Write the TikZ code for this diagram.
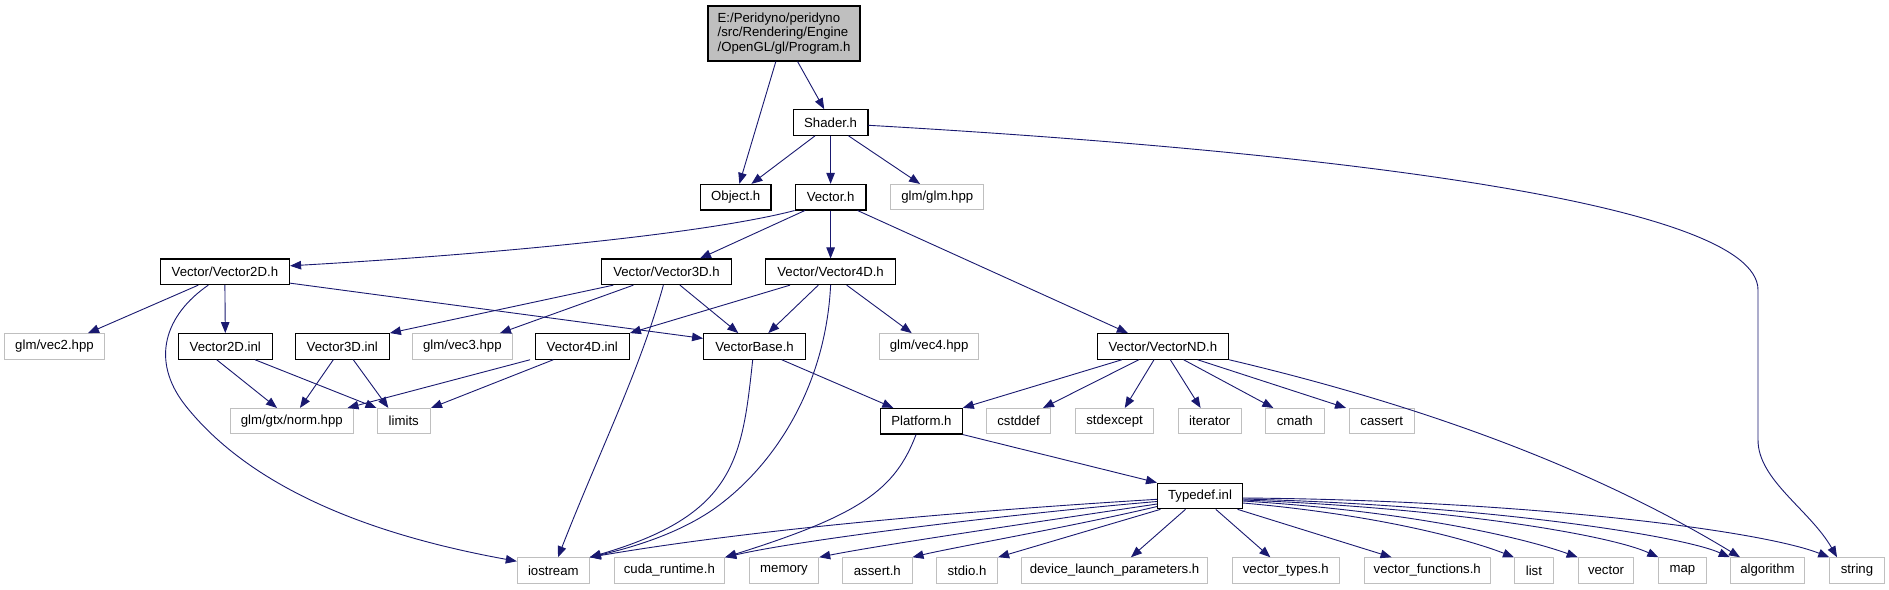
\documentclass[tikz,border=0pt]{standalone}
\usepackage{fontspec}
\setmainfont{Liberation Sans}
\usetikzlibrary{arrows.meta}
\definecolor{edgeblue}{RGB}{25,25,112}
\definecolor{greyb}{RGB}{191,191,191}
\begin{document}
\begin{tikzpicture}[x=1pt,y=-1pt,
  box/.style={rectangle, inner sep=0pt, minimum height=25.5pt, font=\fontsize{13.2}{15.5}\selectfont},
  nb/.style={box, draw=black, line width=1.2pt, fill=white},
  ng/.style={box, draw=greyb, line width=1pt, fill=white},
  root/.style={box, draw=black, line width=1.2pt, fill=greyb, align=left, font=\fontsize{13.2}{14.5}\selectfont},
  edge/.style={draw=edgeblue, line width=0.9pt, -{Triangle[length=11pt,width=8.5pt]}}]
\useasboundingbox[fill=white] (0,0) rectangle (1889,589);
% nodes
\node[root, minimum width=152pt, minimum height=55pt] (prog) at (784,33.5) {E:/Peridyno/peridyno\\/src/Rendering/Engine\\/OpenGL/gl/Program.h};
\node[nb, minimum width=74.6pt] (shader) at (830.6,122.5) {Shader.h};
\node[nb, minimum width=70.3pt] (object) at (735.75,197.2) {Object.h};
\node[nb, minimum width=70.8pt] (vector) at (830.6,197.2) {Vector.h};
\node[ng, minimum width=92.7pt] (glm) at (937.25,197.2) {glm/glm.hpp};
\node[nb, minimum width=129.2pt] (v2d) at (224.9,271.8) {Vector/Vector2D.h};
\node[nb, minimum width=129.5pt] (v3d) at (666.45,271.8) {Vector/Vector3D.h};
\node[nb, minimum width=129.8pt] (v4d) at (830.6,271.8) {Vector/Vector4D.h};
\node[nb, minimum width=131.2pt] (vnd) at (1162.9,346.4) {Vector/VectorND.h};
\node[ng, minimum width=99.4pt] (vec2) at (54.5,346.4) {glm/vec2.hpp};
\node[nb, minimum width=94pt] (v2inl) at (225.3,346.4) {Vector2D.inl};
\node[nb, minimum width=94pt] (v3inl) at (342.3,346.4) {Vector3D.inl};
\node[ng, minimum width=99.3pt] (vec3) at (462.35,346.4) {glm/vec3.hpp};
\node[nb, minimum width=94pt] (v4inl) at (582.3,346.4) {Vector4D.inl};
\node[nb, minimum width=101.6pt] (vbase) at (754.5,346.4) {VectorBase.h};
\node[ng, minimum width=99.3pt] (vec4) at (929.15,346.4) {glm/vec4.hpp};
\node[ng, minimum width=122.5pt] (norm) at (291.75,421.2) {glm/gtx/norm.hpp};
\node[ng, minimum width=53.5pt] (limits) at (403.75,421.2) {limits};
\node[nb, minimum width=81.5pt] (platform) at (921.45,421.2) {Platform.h};
\node[ng, minimum width=63.8pt] (cstddef) at (1018.6,421.2) {cstddef};
\node[ng, minimum width=78.7pt] (stdexcept) at (1114.55,421.2) {stdexcept};
\node[ng, minimum width=63pt] (iterator) at (1209.7,421.2) {iterator};
\node[ng, minimum width=58.7pt] (cmath) at (1294.85,421.2) {cmath};
\node[ng, minimum width=65.5pt] (cassert) at (1381.75,421.2) {cassert};
\node[nb, minimum width=84.8pt] (typedef) at (1200,496) {Typedef.inl};
\node[ng, minimum width=72pt] (iostream) at (553.3,570.5) {iostream};
\node[ng, minimum width=110.7pt] (cuda) at (669.35,570.5) {cuda\_runtime.h};
\node[ng, minimum width=69.4pt] (memory) at (784,570.5) {memory};
\node[ng, minimum width=69.3pt] (assert) at (877.35,570.5) {assert.h};
\node[ng, minimum width=61.2pt] (stdio) at (967,570.5) {stdio.h};
\node[ng, minimum width=186.7pt] (device) at (1114.55,570.5) {device\_launch\_parameters.h};
\node[ng, minimum width=107.3pt] (vtypes) at (1285.75,570.5) {vector\_types.h};
\node[ng, minimum width=126.1pt] (vfuncs) at (1427.25,570.5) {vector\_functions.h};
\node[ng, minimum width=38.8pt] (list) at (1533.9,570.5) {list};
\node[ng, minimum width=55.7pt] (vectorn) at (1606,570.5) {vector};
\node[ng, minimum width=47.3pt] (map) at (1682.45,570.5) {map};
\node[ng, minimum width=74.5pt] (algorithm) at (1767.5,570.5) {algorithm};
\node[ng, minimum width=54.5pt] (string) at (1857,570.5) {string};
% edges
\draw[edge] ([xshift=-8.2pt]prog.south) -- ([xshift=3.6pt]object.north);
\draw[edge] ([xshift=13.6pt]prog.south) -- ([xshift=-6.4pt]shader.north);
\draw[edge] ([xshift=-15.6pt]shader.south) -- ([xshift=15.7pt]object.north);
\draw[edge] (shader.south) -- (vector.north);
\draw[edge] ([xshift=17.9pt]shader.south) -- ([xshift=-17.2pt]glm.north);
\draw[edge] ([yshift=-2.8pt]shader.east) .. controls (1300,150) and (1758,200) .. (1758,290) -- (1758,440) .. controls (1758,480) and (1810,510) .. ([xshift=-20pt]string.north);
\draw[edge] (vector.south west) .. controls (700,235) and (480,255) .. ([yshift=6pt]v2d.east);
\draw[edge] ([xshift=-25.8pt]vector.south) -- ([xshift=33.5pt]v3d.north);
\draw[edge] (vector.south) -- (v4d.north);
\draw[edge] ([xshift=27pt]vector.south) -- ([xshift=-35pt]vnd.north);
\draw[edge] ([xshift=-26.6pt]v2d.south) -- ([xshift=33.5pt]vec2.north);
\draw[edge] (v2d.south) -- (v2inl.north);
\draw[edge] ([xshift=-16.6pt]v2d.south) .. controls (165,315) and (150,360) .. (185,405) .. controls (260,500) and (400,540) .. ([yshift=-4pt]iostream.north west);
\draw[edge] ([yshift=2pt]v2d.south east) -- ([yshift=8pt]vbase.west);
\draw[edge] ([xshift=-53.1pt]v3d.south) -- (v3inl.north east);
\draw[edge] ([xshift=-33.1pt]v3d.south) -- ([xshift=37.6pt]vec3.north);
\draw[edge] ([xshift=13.5pt]v3d.south) -- ([xshift=-16.2pt]vbase.north);
\draw[edge] ([xshift=-3.1pt]v3d.south) .. controls (640,370) and (600,450) .. ([xshift=4.7pt]iostream.north);
\draw[edge] ([xshift=-40.6pt]v4d.south) -- (v4inl.north east);
\draw[edge] ([xshift=-12.3pt]v4d.south) -- ([xshift=13.8pt]vbase.north);
\draw[edge] ([xshift=16.1pt]v4d.south) -- ([xshift=-17.4pt]vec4.north);
\draw[edge] (v4d.south) .. controls (826,380) and (780,460) .. (718,506) .. controls (680,534) and (630,548) .. (iostream.north east);
\draw[edge] ([xshift=-8.6pt]v2inl.south) -- ([xshift=-14.7pt]norm.north);
\draw[edge] ([xshift=29.7pt]v2inl.south) -- (limits.north west);
\draw[edge] ([xshift=-9pt]v3inl.south) -- ([xshift=8.2pt]norm.north);
\draw[edge] ([xshift=11pt]v3inl.south) -- ([xshift=-15.4pt]limits.north);
\draw[edge] ([xshift=-52.3pt]v4inl.south) -- ([xshift=-6pt]norm.north east);
\draw[edge] ([xshift=-29pt]v4inl.south) -- (limits.north east);
\draw[edge] ([xshift=27.2pt]vbase.south) -- ([xshift=-28.1pt]platform.north);
\draw[edge] ([xshift=-1.8pt]vbase.south) .. controls (742,460) and (735,515) .. (iostream.north east);
\draw[edge] (platform.south east) -- (typedef.north west);
\draw[edge] ([xshift=-5.4pt]platform.south) .. controls (895,490) and (860,515) .. (cuda.north east);
\draw[edge] ([xshift=-41pt]vnd.south) -- (platform.north east);
\draw[edge] ([xshift=-24.1pt]vnd.south) -- ([xshift=24.4pt]cstddef.north);
\draw[edge] ([xshift=-8.9pt]vnd.south) -- ([xshift=10.2pt]stdexcept.north);
\draw[edge] ([xshift=7.4pt]vnd.south) -- ([xshift=-9.1pt]iterator.north);
\draw[edge] ([xshift=20.7pt]vnd.south) -- ([xshift=-21.5pt]cmath.north);
\draw[edge] ([xshift=34.7pt]vnd.south) -- ([xshift=-35.7pt]cassert.north);
\draw[edge] (vnd.south east) .. controls (1400,400) and (1580,460) .. ([xshift=-27.5pt]algorithm.north);
\draw[edge] ([yshift=-3.3pt]typedef.west) .. controls (950,512) and (750,530) .. (iostream.north east);
\draw[edge] ([yshift=-5.5pt]typedef.west) .. controls (1000,515) and (800,540) .. (cuda.north east);
\draw[edge] ([yshift=-8pt]typedef.west) .. controls (1050,520) and (880,545) .. (memory.north east);
\draw[edge] ([yshift=-10.5pt]typedef.west) .. controls (1080,525) and (950,548) .. (assert.north east);
\draw[edge] ([xshift=3.4pt]typedef.south west) -- (stdio.north east);
\draw[edge] ([xshift=-14.5pt]typedef.south) -- ([xshift=16.4pt]device.north);
\draw[edge] ([xshift=15.8pt]typedef.south) -- ([xshift=-15.4pt]vtypes.north);
\draw[edge] ([xshift=-5.4pt]typedef.south east) -- ([xshift=-35.7pt]vfuncs.north);
\draw[edge] ([yshift=-7pt]typedef.east) .. controls (1380,515) and (1470,540) .. (list.north west);
\draw[edge] ([yshift=-5pt]typedef.east) .. controls (1420,512) and (1530,540) .. (vectorn.north west);
\draw[edge] ([yshift=-4pt]typedef.east) .. controls (1450,508) and (1610,535) .. (map.north west);
\draw[edge] ([yshift=-3pt]typedef.east) .. controls (1480,505) and (1680,535) .. (algorithm.north west);
\draw[edge] ([yshift=-2pt]typedef.east) .. controls (1520,500) and (1760,530) .. (string.north west);
\end{tikzpicture}
\end{document}
